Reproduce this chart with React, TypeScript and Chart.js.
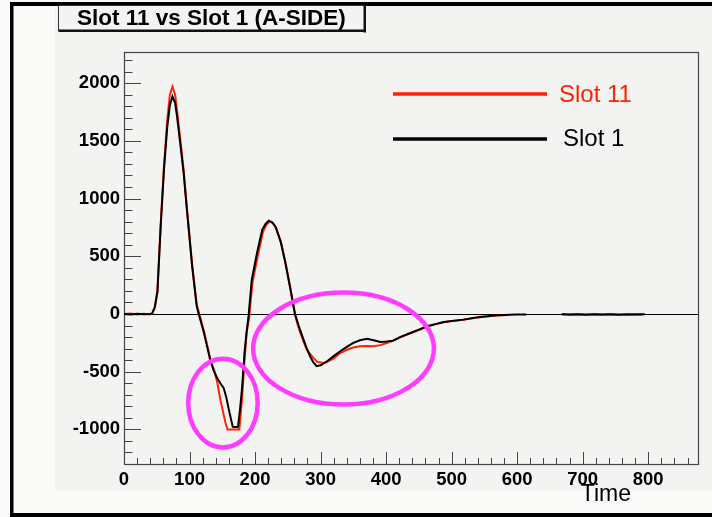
import React, { useEffect, useRef } from "react";
import { Chart, registerables } from "chart.js";

Chart.register(...registerables);

const chartTitle = "Slot 11 vs Slot 1 (A-SIDE)";
const xAxisTitle = "Time";
const seriesNames = ["Slot 11", "Slot 1"];
const xTickValues = [0, 100, 200, 300, 400, 500, 600, 700, 800];
const yTickValues = [-1000, -500, 0, 500, 1000, 1500, 2000];
const xRange = [0, 876];
const yRange = [-1300, 2270];

const slot1Time = [0, 10, 20, 30, 40, 43, 47, 51, 56, 61, 66, 70, 74, 78, 81, 86, 91, 96, 104, 111, 114, 122, 129, 132, 137, 142, 147, 152, 156, 160, 164, 166, 170, 174, 177, 180, 184, 187, 190, 195, 203, 211, 216, 221, 226, 231, 239, 246, 254, 261, 267, 274, 279, 284, 289, 294, 300, 310, 320, 330, 340, 350, 360, 371, 381, 391, 401, 411, 421, 437, 450, 462, 475, 488, 500, 518, 533, 543, 555, 569, 580, 589, 600, 614, 640, 668, 680, 692, 705, 718, 730, 742, 755, 768, 780, 795];
const slot1Values = [0, -4, 2, -3, 0, 5, 60, 190, 760, 1250, 1620, 1810, 1884, 1830, 1711, 1470, 1223, 903, 412, 66, 0, -162, -335, -410, -490, -553, -600, -640, -720, -829, -930, -978, -980, -978, -830, -655, -330, -162, -20, 297, 528, 730, 780, 808, 795, 758, 629, 450, 220, 0, -110, -222, -300, -367, -420, -453, -445, -410, -365, -323, -285, -251, -228, -214, -228, -243, -238, -231, -200, -165, -135, -107, -88, -69, -60, -49, -35, -26, -20, -12, -8, -6, -5, -5, null, -3, -5, -2, -6, -3, -5, -2, -6, -3, -4, -2];

const slot11Time = [0, 10, 20, 30, 40, 43, 47, 51, 56, 61, 66, 70, 74, 78, 81, 86, 91, 96, 104, 111, 115, 122, 129, 132, 137, 142, 147, 152, 155, 158, 167, 176, 180, 184, 187, 191, 196, 204, 212, 217, 222, 227, 232, 240, 247, 254, 261, 267, 274, 279, 284, 289, 295, 305, 310, 320, 330, 340, 350, 360, 370, 381, 391, 401, 411, 421, 432, 450, 462, 475, 488, 500, 518, 533, 543, 555, 569, 584, 640, 668, 680, 692, 705, 718, 730, 742, 755, 768, 780, 792];
const slot11Values = [0, 3, -5, 2, -2, 5, 55, 200, 780, 1280, 1680, 1900, 1970, 1900, 1760, 1510, 1250, 920, 430, 80, 0, -150, -320, -400, -480, -583, -742, -870, -944, -1002, -1002, -1002, -742, -400, -170, -30, 270, 500, 710, 770, 800, 790, 750, 610, 430, 210, -10, -130, -240, -310, -345, -381, -415, -424, -415, -385, -338, -310, -290, -280, -278, -280, -270, -251, -230, -205, -179, -140, -112, -90, -72, -62, -50, -36, -28, -20, -13, -8, null, -2, -6, -3, -5, -2, -6, -3, -4, -6, -2, -4];

// highlighted regions (data units): centre time, centre value, half-width (time), half-height (value)
const highlightTime = [151, 335];
const highlightValue = [-772, -300];
const highlightHalfTime = [53, 138];
const highlightHalfValue = [385, 485];

const RED = "#ff2200";
const FONT = "'Liberation Sans', Arial, Helvetica, sans-serif";

const rootStyle = {
  id: "rootStyle",
  beforeDraw(chart: any) {
    const { ctx, width, height } = chart;
    ctx.save();
    ctx.fillStyle = "#fafaf8";
    ctx.fillRect(0, 0, width, height);
    ctx.fillStyle = "#f3f3f1";
    ctx.fillRect(55, 6, width - 55, 484);
    ctx.fillStyle = "#000";
    ctx.fillRect(10, 2, width - 10, 4);
    ctx.fillRect(10, 2, 3.5, height - 2);
    ctx.fillRect(10, 513, width - 10, 4);
    // title box
    ctx.fillStyle = "#f3f3f1";
    ctx.fillRect(58.5, 5, 306, 25);
    ctx.strokeStyle = "#333";
    ctx.lineWidth = 1;
    ctx.strokeRect(58.5, 5.5, 306, 25);
    ctx.fillStyle = "#111";
    ctx.fillRect(363.5, 5, 2.5, 27.5);
    ctx.fillRect(58.5, 29.5, 307.5, 2.5);
    ctx.fillStyle = "#000";
    ctx.font = `bold 22.5px ${FONT}`;
    ctx.textBaseline = "alphabetic";
    ctx.textAlign = "left";
    ctx.fillText(chartTitle, 77, 25);
    ctx.restore();
  },
  beforeDatasetsDraw(chart: any) {
    const { ctx, chartArea: a, scales } = chart;
    const xs = scales.x;
    const ys = scales.y;
    ctx.save();
    // zero line
    const y0 = Math.round(ys.getPixelForValue(0)) + 0.5;
    ctx.strokeStyle = "#000";
    ctx.lineWidth = 1;
    ctx.beginPath();
    ctx.moveTo(a.left, y0);
    ctx.lineTo(a.right, y0);
    ctx.stroke();
    // ticks
    ctx.strokeStyle = "#444";
    ctx.beginPath();
    for (let v = -1300; v <= 2270; v += 100) {
      const py = Math.round(ys.getPixelForValue(v)) + 0.5;
      const len = v % 500 === 0 ? 17 : 8.5;
      ctx.moveTo(a.left, py);
      ctx.lineTo(a.left + len, py);
    }
    for (let v = 0; v <= 876; v += 20) {
      const px = Math.round(xs.getPixelForValue(v)) + 0.5;
      const len = v % 100 === 0 ? 12 : 6;
      ctx.moveTo(px, a.bottom);
      ctx.lineTo(px, a.bottom - len);
    }
    ctx.stroke();
    // frame
    ctx.strokeStyle = "#444";
    ctx.lineWidth = 1.2;
    ctx.strokeRect(a.left + 0.5, a.top + 0.5, a.right - a.left, a.bottom - a.top);
    ctx.restore();
  },
  afterDatasetsDraw(chart: any) {
    const { ctx, scales } = chart;
    const xs = scales.x;
    const ys = scales.y;
    ctx.save();
    // highlight ellipses
    ctx.strokeStyle = "#ff3cff";
    ctx.lineWidth = 4.5;
    for (let i = 0; i < highlightTime.length; i++) {
      const cx = xs.getPixelForValue(highlightTime[i]);
      const cy = ys.getPixelForValue(highlightValue[i]);
      const rx = Math.abs(xs.getPixelForValue(highlightTime[i] + highlightHalfTime[i]) - cx);
      const ry = Math.abs(ys.getPixelForValue(highlightValue[i] + highlightHalfValue[i]) - cy);
      ctx.beginPath();
      ctx.ellipse(cx, cy, rx, ry, 0, 0, Math.PI * 2);
      ctx.stroke();
    }
    // legend
    const colors = [RED, "#000"];
    const lineY = [94, 139];
    const textX = [559, 563];
    const textY = [102, 146];
    ctx.lineWidth = 3.5;
    ctx.font = `24px ${FONT}`;
    ctx.textAlign = "left";
    ctx.textBaseline = "alphabetic";
    for (let i = 0; i < seriesNames.length; i++) {
      ctx.strokeStyle = colors[i];
      ctx.beginPath();
      ctx.moveTo(393, lineY[i]);
      ctx.lineTo(547, lineY[i]);
      ctx.stroke();
      ctx.fillStyle = colors[i];
      ctx.fillText(seriesNames[i], textX[i], textY[i]);
    }
    ctx.restore();
  },
  afterDraw(chart: any) {
    const { ctx } = chart;
    ctx.save();
    ctx.fillStyle = "#000";
    ctx.font = `23px ${FONT}`;
    ctx.textAlign = "right";
    ctx.textBaseline = "alphabetic";
    ctx.fillText(xAxisTitle, 631, 501);
    ctx.restore();
  },
};

export default function App() {
  const canvasRef = useRef<HTMLCanvasElement | null>(null);

  useEffect(() => {
    const canvas = canvasRef.current;
    if (!canvas) return;
    const toPoints = (t: number[], v: (number | null)[]) => t.map((x, i) => ({ x, y: v[i] }));
    const chart = new Chart(canvas, {
      type: "line",
      data: {
        datasets: [
          {
            label: seriesNames[0],
            data: toPoints(slot11Time, slot11Values) as any,
            borderColor: RED,
            borderWidth: 2,
            pointRadius: 0,
            tension: 0,
            fill: false,
            order: 1,
          },
          {
            label: seriesNames[1],
            data: toPoints(slot1Time, slot1Values) as any,
            borderColor: "#000",
            borderWidth: 2,
            pointRadius: 0,
            tension: 0,
            fill: false,
            order: 0,
          },
        ],
      },
      options: {
        animation: false,
        responsive: false,
        devicePixelRatio: 1,
        spanGaps: false,
        layout: { padding: { top: 52, right: 14, left: 0, bottom: 0 } },
        plugins: {
          legend: { display: false },
          title: { display: false },
          tooltip: { enabled: false },
        },
        scales: {
          x: {
            type: "linear",
            min: xRange[0],
            max: xRange[1],
            grid: { display: false, drawTicks: false },
            border: { display: false },
            afterFit: (s: any) => {
              s.height = 53;
            },
            afterBuildTicks: (s: any) => {
              s.ticks = xTickValues.map((value) => ({ value }));
            },
            ticks: {
              color: "#000",
              padding: 5,
              maxRotation: 0,
              autoSkip: false,
              font: { family: FONT, weight: "bold", size: 18.5 },
              callback: (v: any) => String(v),
            },
          },
          y: {
            type: "linear",
            min: yRange[0],
            max: yRange[1],
            grid: { display: false, drawTicks: false },
            border: { display: false },
            afterFit: (s: any) => {
              s.width = 124;
            },
            afterBuildTicks: (s: any) => {
              s.ticks = yTickValues.map((value) => ({ value }));
            },
            ticks: {
              color: "#000",
              padding: 4,
              autoSkip: false,
              font: { family: FONT, weight: "bold", size: 18.5 },
              callback: (v: any) => String(v),
            },
          },
        },
      },
      plugins: [rootStyle],
    });
    return () => chart.destroy();
  }, []);

  return (
    <div style={{ position: "fixed", left: 0, top: 0, width: 712, height: 517 }}>
      <canvas ref={canvasRef} width={712} height={517} style={{ width: 712, height: 517, display: "block" }} />
    </div>
  );
}
